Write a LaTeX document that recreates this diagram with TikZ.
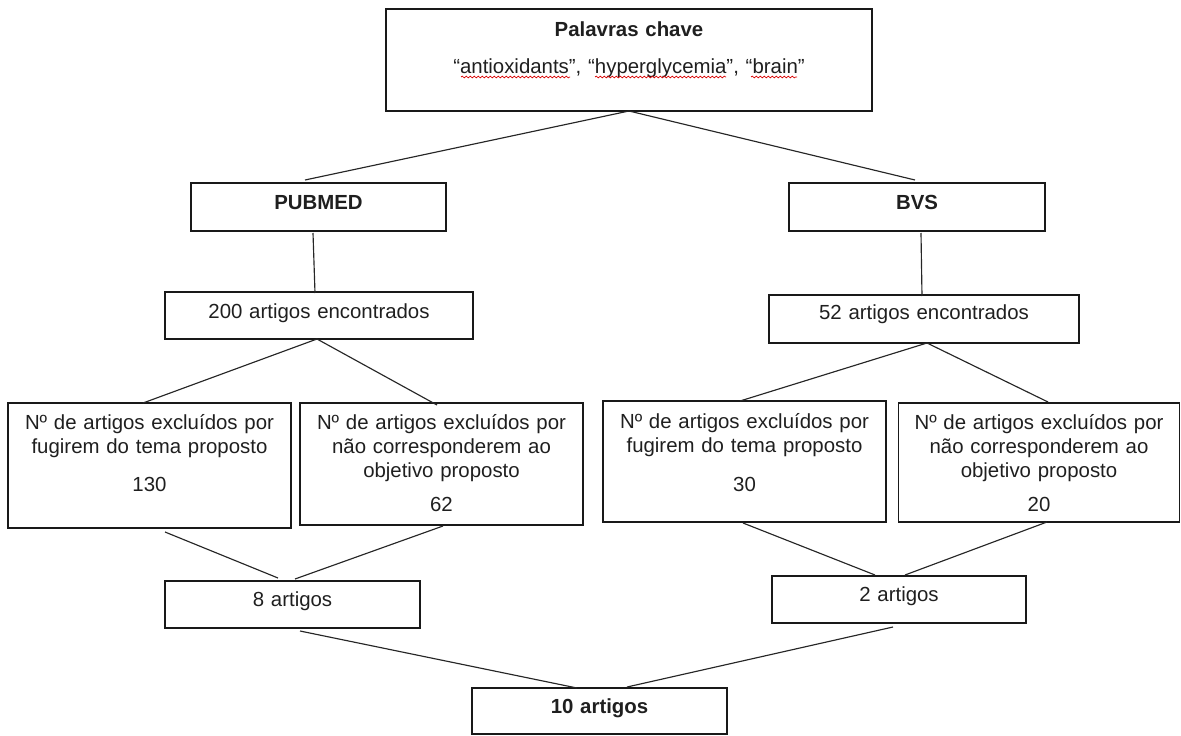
\documentclass[tikz,border=0pt]{standalone}
\usepackage{fontspec}
\setmainfont{Liberation Sans}
\usetikzlibrary{decorations.pathmorphing}
\begin{document}
\begin{tikzpicture}[x=1pt,y=-1pt,
  box/.style={draw=black!90, line width=1.4pt, inner sep=0pt, outer sep=0pt, anchor=center},
  txt/.style={anchor=base, inner sep=0pt, outer sep=0pt, text width=282pt, align=center,
              text=black!88, font=\fontsize{20.4}{24}\selectfont},
  link/.style={draw=black!85, line width=1.15pt},
  squig/.style={draw=red!85!black, line width=0.7pt, decorate,
                decoration={snake, segment length=4pt, amplitude=0.9pt}}]
\useasboundingbox (0,0) rectangle (1181,736);
% boxes
\node[box, minimum width=486pt, minimum height=102pt] (kw)   at (629,60) {};
\node[box, minimum width=255pt, minimum height=48pt]  (pub)  at (318.5,207) {};
\node[box, minimum width=256pt, minimum height=48pt]  (bvs)  at (917,207) {};
\node[box, minimum width=308pt, minimum height=47pt]  (p200) at (319,315.5) {};
\node[box, minimum width=310pt, minimum height=48pt]  (b52)  at (924,319) {};
\node[box, minimum width=283pt, minimum height=125pt] (pl1)  at (149.5,465.5) {};
\node[box, minimum width=283pt, minimum height=122pt] (pl2)  at (441.5,464) {};
\node[box, minimum width=283pt, minimum height=121pt] (pr1)  at (744.5,461.5) {};
\node[box, minimum width=281pt, minimum height=119pt] (pr2)  at (1039,462.5) {};
\node[box, minimum width=255pt, minimum height=47pt]  (p8)   at (292.5,604.5) {};
\node[box, minimum width=254pt, minimum height=47pt]  (b2)   at (899,599.5) {};
\node[box, minimum width=255pt, minimum height=46pt]  (ten)  at (599.5,711) {};
% texts
\node[txt, text width=480pt] (kwt1) at (629,36.5) {\textbf{Palavras chave}};
\node[txt, text width=480pt] (kwt2) at (629,73.5) {“antioxidants”, “hyperglycemia”, “brain”};
\node[txt] (pubt)  at (318.5,209.5) {\textbf{PUBMED}};
\node[txt] (bvst)  at (917,209.5) {\textbf{BVS}};
\node[txt, text width=300pt] (p200t) at (319,318.5) {200 artigos encontrados};
\node[txt, text width=300pt] (b52t)  at (924,319.5) {52 artigos encontrados};
\node[txt] (pl1t) at (149.5,429.5) {Nº de artigos excluídos por\\fugirem do tema proposto\\[14pt]130};
\node[txt] (pl2t) at (441.5,429.5) {Nº de artigos excluídos por\\não corresponderem ao\\objetivo proposto\\[10pt]62};
\node[txt] (pr1t) at (744.5,428.5) {Nº de artigos excluídos por\\fugirem do tema proposto\\[15pt]30};
\node[txt, text width=278pt] (pr2t) at (1039,429.5) {Nº de artigos excluídos por\\não corresponderem ao\\objetivo proposto\\[10pt]20};
\node[txt] (p8t)  at (292.5,606.5) {8 artigos};
\node[txt] (b2t)  at (899,601.5) {2 artigos};
\node[txt] (tent) at (599.5,713.5) {\textbf{10 artigos}};
% spell-check squiggles
\draw[squig] (461,77) -- (570,77);
\draw[squig] (595,77) -- (726,77);
\draw[squig] (751,77) -- (797,77);
% connectors
\draw[link] (kw.south) -- ([xshift=-13.5pt,yshift=3pt]pub.north);
\draw[link] (kw.south) -- ([xshift=-2pt,yshift=3pt]bvs.north);
\draw[link] ([xshift=-5.5pt,yshift=-2pt]pub.south) -- ([xshift=-4pt,yshift=-1pt]p200.north);
\draw[link] ([xshift=4pt,yshift=-2pt]bvs.south) -- ([xshift=-2pt,yshift=-1pt]b52.north);
\draw[link] ([xshift=-2pt]p200.south) -- ([xshift=-6.5pt]pl1.north);
\draw[link] ([xshift=-2pt]p200.south) -- ([xshift=-4.5pt,yshift=-2pt]pl2.north);
\draw[link] ([xshift=3pt]b52.south) -- ([xshift=-4.5pt]pr1.north);
\draw[link] ([xshift=3pt]b52.south) -- ([xshift=9pt,yshift=1pt]pr2.north);
\draw[link] ([xshift=15.5pt,yshift=-4pt]pl1.south) -- ([xshift=-14.5pt,yshift=3pt]p8.north);
\draw[link] ([xshift=1.5pt,yshift=-1pt]pl2.south) -- ([xshift=2.5pt,yshift=2pt]p8.north);
\draw[link] ([xshift=-1.5pt,yshift=-1pt]pr1.south) -- ([xshift=-24pt,yshift=1pt]b2.north);
\draw[link] ([xshift=8pt]pr2.south) -- ([xshift=6pt,yshift=1pt]b2.north);
\draw[link] ([xshift=7.5pt,yshift=-3pt]p8.south) -- ([xshift=-22.5pt]ten.north);
\draw[link] ([xshift=-6pt,yshift=-4pt]b2.south) -- ([xshift=27.5pt,yshift=1pt]ten.north);
\end{tikzpicture}
\end{document}
